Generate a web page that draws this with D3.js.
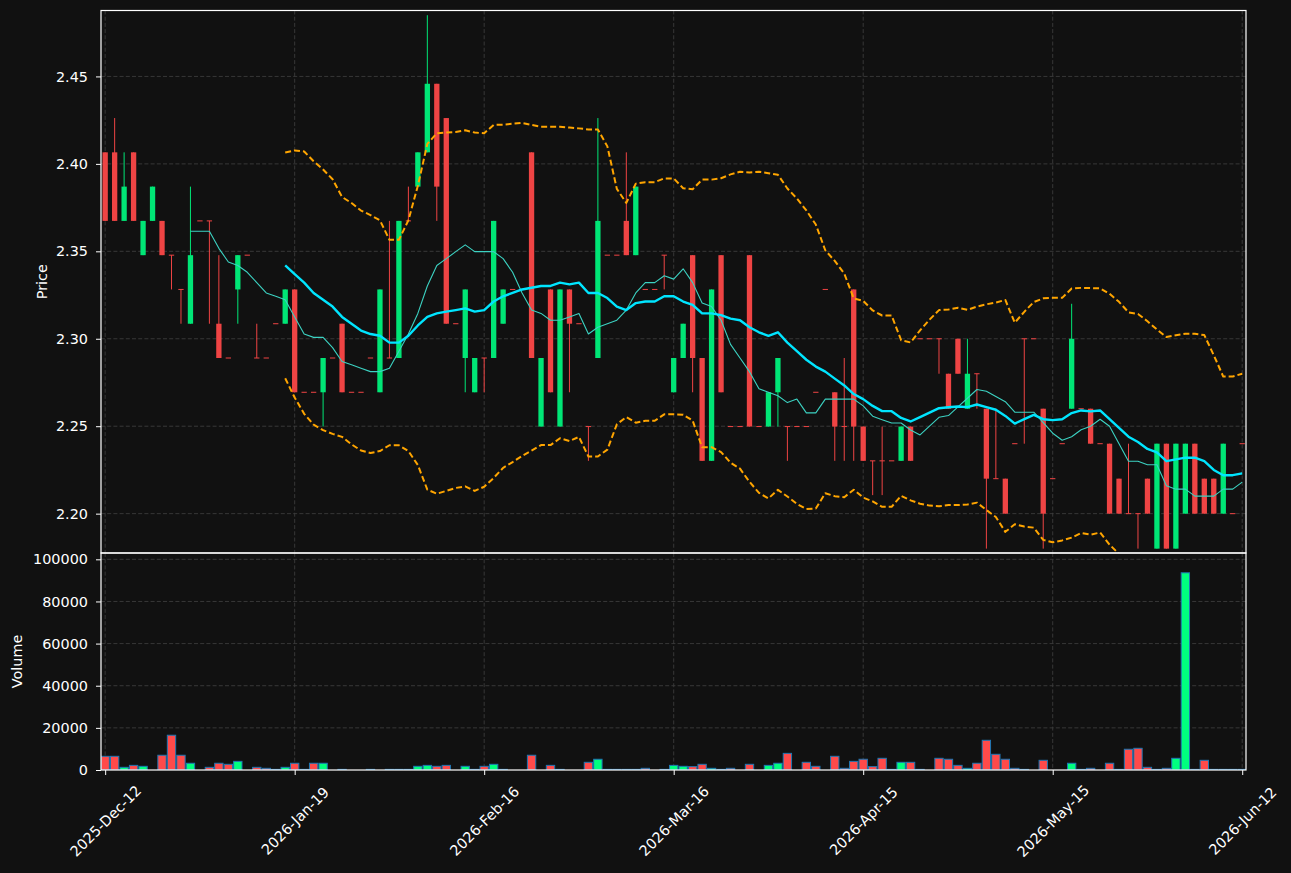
<!DOCTYPE html>
<html><head><meta charset="utf-8">
<script src="https://cdn.jsdelivr.net/npm/d3@7"></script>
<style>html,body{margin:0;padding:0;background:#111111;}svg{display:block}</style>
</head><body>
<svg id="chart" width="1291" height="873"></svg>
<script>
// ---- data ----
const tickLabels = ["2025-Dec-12","2026-Jan-19","2026-Feb-16","2026-Mar-16","2026-Apr-15","2026-May-15","2026-Jun-12"];
const tickIndex  = [0,20,40,60,80,100,120];
const priceTicks = [2.20,2.25,2.30,2.35,2.40,2.45];
const volumeTicks = [0,20000,40000,60000,80000,100000];

const opens = [2.4066,2.4066,2.3674,2.4066,2.3478,2.3674,2.3674,2.3478,2.3282,2.3086,
 2.3674,2.3674,2.3086,2.2890,2.3282,2.3478,2.2890,2.2890,2.3086,2.3086,
 2.3282,2.2694,2.2694,2.2694,2.2890,2.3086,2.2694,2.2694,2.2890,2.2694,
 2.2890,2.2890,2.3674,2.3870,2.4066,2.4458,2.4262,2.3086,2.2890,2.2694,
 2.2890,2.2890,2.3086,2.3282,2.3282,2.4066,2.2498,2.3282,2.2498,2.3282,
 2.3086,2.2498,2.2890,2.3478,2.3478,2.3674,2.3478,2.3282,2.3282,2.3478,
 2.2694,2.2890,2.3478,2.2890,2.2302,2.3478,2.2498,2.2498,2.3478,2.2498,
 2.2498,2.2694,2.2498,2.2498,2.2498,2.2694,2.3282,2.2694,2.2498,2.3282,
 2.2498,2.2302,2.2302,2.2302,2.2302,2.2498,2.30,2.30,2.30,2.28,
 2.30,2.26,2.28,2.26,2.22,2.22,2.24,2.30,2.30,2.26,
 2.22,2.24,2.26,2.26,2.26,2.24,2.24,2.22,2.20,2.20,
 2.22,2.18,2.24,2.18,2.20,2.24,2.22,2.22,2.20,2.20,
 2.24];
const highs = [2.4066,2.4262,2.4066,2.4066,2.3674,2.3870,2.3674,2.3478,2.3282,2.3870,
 2.3674,2.3674,2.3478,2.2890,2.3478,2.3478,2.3086,2.2890,2.3086,2.3282,
 2.3282,2.2694,2.2694,2.2890,2.2890,2.3086,2.2694,2.2694,2.2890,2.3282,
 2.3674,2.3674,2.3870,2.4066,2.4850,2.4458,2.4262,2.3086,2.3282,2.2890,
 2.2890,2.3674,2.3282,2.3282,2.3282,2.4066,2.2890,2.3282,2.3282,2.3282,
 2.3086,2.2498,2.4262,2.3478,2.3478,2.4066,2.3870,2.3282,2.3282,2.3478,
 2.2890,2.3086,2.3478,2.2890,2.3282,2.3478,2.2498,2.2498,2.3478,2.2498,
 2.2694,2.2890,2.2498,2.2498,2.2498,2.2694,2.3282,2.2694,2.2890,2.3282,
 2.2498,2.2302,2.2498,2.2302,2.2498,2.2498,2.30,2.30,2.30,2.28,
 2.30,2.30,2.28,2.26,2.26,2.22,2.24,2.30,2.30,2.26,
 2.22,2.24,2.32,2.26,2.26,2.24,2.24,2.22,2.24,2.20,
 2.22,2.24,2.24,2.24,2.24,2.24,2.22,2.22,2.24,2.20,
 2.24];
const lows = [2.3674,2.3674,2.3674,2.3674,2.3478,2.3674,2.3478,2.3282,2.3086,2.3086,
 2.3674,2.3086,2.2890,2.2890,2.3086,2.3478,2.2890,2.2890,2.3086,2.3086,
 2.2694,2.2694,2.2694,2.2498,2.2890,2.2694,2.2694,2.2694,2.2890,2.2694,
 2.2890,2.2890,2.3674,2.3870,2.4066,2.3674,2.3086,2.3086,2.2694,2.2694,
 2.2694,2.2890,2.3086,2.3282,2.3282,2.2890,2.2498,2.2694,2.2498,2.2694,
 2.3086,2.2302,2.2890,2.3478,2.3478,2.3478,2.3478,2.3282,2.3282,2.3282,
 2.2694,2.2890,2.2694,2.2302,2.2302,2.2694,2.2498,2.2498,2.2498,2.2498,
 2.2498,2.2498,2.2302,2.2498,2.2498,2.2694,2.3282,2.2302,2.2302,2.2302,
 2.2302,2.2106,2.2106,2.2302,2.2302,2.2302,2.30,2.30,2.28,2.26,
 2.28,2.26,2.26,2.18,2.22,2.20,2.24,2.24,2.30,2.18,
 2.22,2.24,2.26,2.26,2.24,2.24,2.20,2.20,2.20,2.18,
 2.20,2.18,2.18,2.18,2.20,2.20,2.20,2.20,2.20,2.20,
 2.24];
const closes = [2.3674,2.3674,2.3870,2.3674,2.3674,2.3870,2.3478,2.3478,2.3282,2.3478,
 2.3674,2.3674,2.2890,2.2890,2.3478,2.3478,2.2890,2.2890,2.3086,2.3282,
 2.2694,2.2694,2.2694,2.2890,2.2890,2.2694,2.2694,2.2694,2.2890,2.3282,
 2.2890,2.3674,2.3674,2.4066,2.4458,2.3870,2.3086,2.3086,2.3282,2.2890,
 2.2890,2.3674,2.3282,2.3282,2.3282,2.2890,2.2890,2.2694,2.3282,2.3086,
 2.3086,2.2498,2.3674,2.3478,2.3478,2.3478,2.3870,2.3282,2.3282,2.3478,
 2.2890,2.3086,2.2890,2.2302,2.3282,2.2694,2.2498,2.2498,2.2498,2.2498,
 2.2694,2.2890,2.2498,2.2498,2.2498,2.2694,2.3282,2.2498,2.2498,2.2498,
 2.2302,2.2302,2.2302,2.2302,2.2498,2.2302,2.30,2.30,2.30,2.26,
 2.28,2.28,2.28,2.22,2.22,2.20,2.24,2.30,2.30,2.20,
 2.22,2.24,2.30,2.26,2.24,2.24,2.20,2.20,2.20,2.20,
 2.20,2.24,2.18,2.24,2.24,2.20,2.20,2.20,2.24,2.20,
 2.24];
const volumes = [6500,6500,1270,2200,1750,0,7000,16500,7000,3200,
 0,1270,3200,2700,4100,0,1270,800,300,1270,
 3200,300,3200,3200,0,300,0,0,300,0,
 300,300,300,1750,2200,1750,2200,0,1750,300,
 1750,2700,300,0,0,7000,0,2200,300,0,
 0,3650,5100,300,300,300,300,800,0,300,
 2200,1750,1600,2700,800,300,800,0,2700,0,
 2200,3200,7900,0,3650,1750,0,6500,800,4100,
 5100,1600,5550,300,3650,3650,300,0,5550,5100,
 2200,800,3200,14100,7450,5100,800,300,0,4600,
 0,0,3200,300,800,0,3200,300,9850,10300,
 1270,300,800,5550,93600,300,4600,300,300,300,
 300];

// moving-average and band lines
const ma10Start = 9;
const ma10 = [2.3615,2.3615,2.3615,2.3517,2.3439,2.3419,2.3380,2.3321,2.3262,2.3243,2.3223,2.3125,2.3027,2.3008,2.3008,2.2949,
 2.2870,2.2851,2.2831,2.2812,2.2812,2.2831,2.2929,2.3027,2.3145,2.3302,2.3419,2.3458,2.3498,2.3537,2.3498,2.3498,
 2.3498,2.3458,2.3380,2.3262,2.3164,2.3145,2.3106,2.3106,2.3125,2.3145,2.3027,2.3066,2.3086,2.3106,2.3164,2.3262,
 2.3321,2.3321,2.3360,2.3341,2.3400,2.3321,2.3204,2.3184,2.3106,2.2968,2.2890,2.2812,2.2714,2.2694,2.2674,2.2635,
 2.2655,2.2576,2.2576,2.2655,2.2655,2.2655,2.2655,2.2616,2.2557,2.2537,2.2518,2.2518,2.2478,2.2450,2.2500,2.2551,
 2.2561,2.2611,2.2660,2.2710,2.2700,2.2670,2.2640,2.2580,2.2580,2.2580,2.2520,2.2460,2.2420,2.2440,2.2480,2.2500,
 2.2540,2.2500,2.2400,2.2300,2.2300,2.2280,2.2280,2.2160,2.2140,2.2140,2.2100,2.2100,2.2100,2.2140,2.2140,2.2180];
const ma20Start = 19;
const ma20 = [2.3419,2.3370,2.3321,2.3262,2.3223,2.3184,2.3125,2.3086,2.3047,2.3027,2.3017,2.2978,2.2978,2.3017,2.3076,2.3125,
 2.3145,2.3155,2.3164,2.3174,2.3155,2.3164,2.3213,2.3243,2.3262,2.3282,2.3292,2.3302,2.3302,2.3321,2.3311,2.3321,
 2.3262,2.3262,2.3233,2.3184,2.3164,2.3204,2.3213,2.3213,2.3243,2.3243,2.3213,2.3194,2.3145,2.3145,2.3135,2.3115,
 2.3106,2.3066,2.3037,2.3017,2.3037,2.2978,2.2929,2.2880,2.2841,2.2812,2.2772,2.2733,2.2684,2.2655,2.2616,2.2586,
 2.2586,2.2547,2.2527,2.2552,2.2578,2.2603,2.2608,2.2613,2.2609,2.2624,2.2609,2.2594,2.2559,2.2515,2.2540,2.2565,
 2.2540,2.2535,2.2540,2.2575,2.2590,2.2585,2.2590,2.2540,2.2490,2.2440,2.2410,2.2370,2.2350,2.2300,2.2310,2.2320,
 2.2320,2.2300,2.2250,2.2220,2.2220,2.2230];
const bbUpper = [2.4065,2.4077,2.4071,2.4015,2.3968,2.3912,2.3811,2.3776,2.3733,2.3707,2.3677,2.3566,2.3566,2.3677,2.3875,2.4114,
 2.4175,2.4179,2.4182,2.4192,2.4179,2.4175,2.4223,2.4224,2.4230,2.4234,2.4223,2.4212,2.4212,2.4212,2.4208,2.4203,
 2.4197,2.4197,2.4100,2.3857,2.3777,2.3887,2.3895,2.3895,2.3917,2.3917,2.3861,2.3855,2.3910,2.3910,2.3918,2.3940,
 2.3955,2.3951,2.3955,2.3947,2.3938,2.3859,2.3802,2.3734,2.3653,2.3506,2.3445,2.3373,2.3231,2.3217,2.3162,2.3133,
 2.3133,2.2992,2.2979,2.3048,2.3109,2.3164,2.3167,2.3177,2.3165,2.3184,2.3197,2.3207,2.3222,2.3092,2.3154,2.3210,
 2.3231,2.3234,2.3234,2.3287,2.3291,2.3290,2.3288,2.3257,2.3211,2.3151,2.3142,2.3100,2.3053,2.3010,2.3020,2.3029,
 2.3029,2.3021,2.2906,2.2784,2.2784,2.2800];
const bbLower = [2.2774,2.2664,2.2571,2.2509,2.2478,2.2456,2.2439,2.2396,2.2361,2.2347,2.2358,2.2391,2.2391,2.2358,2.2278,2.2137,
 2.2114,2.2130,2.2147,2.2156,2.2130,2.2154,2.2204,2.2262,2.2295,2.2330,2.2360,2.2392,2.2392,2.2431,2.2415,2.2439,
 2.2327,2.2327,2.2366,2.2511,2.2552,2.2520,2.2531,2.2531,2.2568,2.2568,2.2566,2.2532,2.2380,2.2380,2.2352,2.2291,
 2.2257,2.2182,2.2119,2.2087,2.2136,2.2098,2.2056,2.2026,2.2029,2.2117,2.2100,2.2094,2.2137,2.2092,2.2070,2.2039,
 2.2039,2.2102,2.2076,2.2057,2.2046,2.2042,2.2049,2.2049,2.2052,2.2063,2.2021,2.1981,2.1896,2.1939,2.1926,2.1920,
 2.1850,2.1836,2.1847,2.1863,2.1889,2.1880,2.1892,2.1823,2.1769,2.1729,2.1678,2.1640,2.1647,2.1590,2.1600,2.1611,
 2.1611,2.1579,2.1594,2.1656,2.1656,2.1660];

// ---- layout ----
const L = 101, R = 1246, pTop = 10.5, pBot = 553, vTop = 553, vBot = 770;
const FONT = "DejaVu Sans, sans-serif";
const FS = 14.4;
const svg = d3.select("#chart");
svg.append("rect").attr("width",1291).attr("height",873).attr("fill","#111111");

const x  = d3.scaleLinear().domain([-0.44, 120.4]).range([L, R]);
const y  = d3.scaleLinear().domain([2.1775, 2.4877]).range([pBot, pTop]);
const yv = d3.scaleLinear().domain([0, 103000]).range([vBot, vTop]);
const step = x(1) - x(0);

const defs = svg.append("defs");
defs.append("clipPath").attr("id","clipP").append("rect").attr("x",L).attr("y",pTop).attr("width",R-L).attr("height",pBot-pTop);
defs.append("clipPath").attr("id","clipV").append("rect").attr("x",L).attr("y",vTop).attr("width",R-L).attr("height",vBot-vTop);

// grids
function grid(yScale, yVals, top, bot){
  const g = svg.append("g").attr("stroke","#3c3c3c").attr("stroke-width",0.9).attr("stroke-dasharray","4,2.2");
  g.selectAll("line.h").data(yVals).join("line").attr("class","h")
    .attr("x1",L).attr("x2",R).attr("y1",d=>yScale(d)).attr("y2",d=>yScale(d));
  g.selectAll("line.v").data(tickIndex).join("line").attr("class","v")
    .attr("x1",d=>x(d)).attr("x2",d=>x(d)).attr("y1",top).attr("y2",bot);
}
grid(y, priceTicks, pTop, pBot);
grid(yv, volumeTicks.filter(v=>v>0), vTop, vBot);

// candles
const upC = "#00e676", dnC = "#ef4444";
const idx = d3.range(opens.length);
const cg = svg.append("g").attr("clip-path","url(#clipP)");
const bw = step*0.56;
cg.selectAll("line.wick").data(idx).join("line").attr("class","wick")
  .attr("x1",i=>x(i)).attr("x2",i=>x(i)).attr("y1",i=>y(highs[i])).attr("y2",i=>y(lows[i]))
  .attr("stroke",i=>closes[i]>opens[i]?upC:dnC).attr("stroke-width",1);
cg.selectAll("rect.body").data(idx).join("rect").attr("class","body")
  .attr("x",i=>x(i)-bw/2).attr("width",bw)
  .attr("y",i=>{const t=y(Math.max(opens[i],closes[i])), b=y(Math.min(opens[i],closes[i])); return (b-t)<1 ? t-0.5 : t;})
  .attr("height",i=>Math.max(1, y(Math.min(opens[i],closes[i])) - y(Math.max(opens[i],closes[i]))))
  .attr("fill",i=>closes[i]>opens[i]?upC:dnC);

// lines
function drawLine(arr, start, color, width, dash){
  const line = d3.line().x((d,i)=>x(i+start)).y(d=>y(d));
  cg.append("path").datum(arr).attr("d",line).attr("fill","none").attr("stroke",color)
    .attr("stroke-width",width).attr("stroke-dasharray",dash||null).attr("stroke-linejoin","round");
}
drawLine(ma10, ma10Start, "#3cd2c2", 1.1);
drawLine(ma20, ma20Start, "#00e5ff", 2.4);
drawLine(bbUpper, ma20Start, "#ffa500", 2.0, "6,3");
drawLine(bbLower, ma20Start, "#ffa500", 2.0, "6,3");

// volume
const vg = svg.append("g").attr("clip-path","url(#clipV)");
const vw = step*0.88;
vg.selectAll("rect").data(idx.filter(i=>volumes[i]>0)).join("rect")
  .attr("x",i=>x(i)-vw/2).attr("width",vw)
  .attr("y",i=>yv(volumes[i])).attr("height",i=>vBot-yv(volumes[i]))
  .attr("fill",i=>closes[i]>opens[i]?"#00ff7f":"#ff4a4a")
  .attr("stroke","#1f77b4").attr("stroke-width",1);

// axes
function styleAxis(g){
  g.select(".domain").remove();
  g.selectAll(".tick line").attr("stroke","#ffffff").attr("stroke-width",1);
  g.selectAll(".tick text").attr("fill","#ffffff").attr("font-family",FONT).attr("font-size",FS);
}
svg.append("g").attr("transform",`translate(${L},0)`)
  .call(d3.axisLeft(y).tickValues(priceTicks).tickFormat(d3.format(".2f")).tickSize(5).tickPadding(8))
  .call(styleAxis);
svg.append("g").attr("transform",`translate(${L},0)`)
  .call(d3.axisLeft(yv).tickValues(volumeTicks).tickFormat(d3.format("d")).tickSize(5).tickPadding(8))
  .call(styleAxis);
const xa = svg.append("g").attr("transform",`translate(0,${vBot})`)
  .call(d3.axisBottom(x).tickValues(tickIndex).tickFormat((d,i)=>tickLabels[i]).tickSize(5).tickPadding(5))
  .call(styleAxis);
xa.selectAll(".tick text")
  .attr("text-anchor","middle").attr("dominant-baseline","central")
  .attr("y",51).attr("dy",null)
  .attr("transform","rotate(-45,0,51)");

// spines
svg.append("rect").attr("x",L).attr("y",pTop).attr("width",R-L).attr("height",pBot-pTop)
  .attr("fill","none").attr("stroke","#ffffff").attr("stroke-width",1.2);
svg.append("rect").attr("x",L).attr("y",vTop).attr("width",R-L).attr("height",vBot-vTop)
  .attr("fill","none").attr("stroke","#ffffff").attr("stroke-width",1.2);

// axis titles
svg.append("text").attr("transform",`translate(42,${(pTop+pBot)/2}) rotate(-90)`)
  .attr("text-anchor","middle").attr("dominant-baseline","central")
  .attr("fill","#ffffff").attr("font-family",FONT).attr("font-size",FS).text("Price");
svg.append("text").attr("transform",`translate(17,${(vTop+vBot)/2}) rotate(-90)`)
  .attr("text-anchor","middle").attr("dominant-baseline","central")
  .attr("fill","#ffffff").attr("font-family",FONT).attr("font-size",FS).text("Volume");
</script>
</body></html>
